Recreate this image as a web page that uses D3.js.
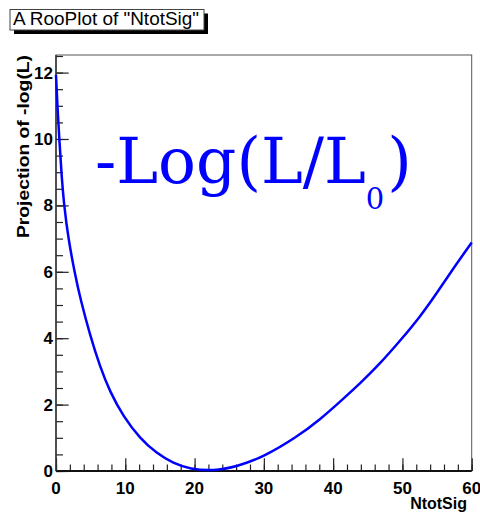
<!DOCTYPE html>
<html>
<head>
<meta charset="utf-8">
<script src="https://cdn.jsdelivr.net/npm/d3@7"></script>
<style>
  html, body { margin: 0; padding: 0; background: #fff; }
  svg { display: block; }
</style>
</head>
<body>
<svg id="chart" width="480" height="514"></svg>
<script>
// Profile of the negative log-likelihood versus the signal yield
const nSig = [0, 0.2, 0.48, 0.77, 1.16, 1.78, 2.74, 3.56, 4.9, 6.35, 7.8, 9.72,
              12.13, 14.54, 16.94, 19.35, 22.7, 26.1, 30, 34.8, 38.1, 41.0, 43.9,
              46.8, 49.7, 52.6, 55.0, 57.4, 60];
const nll  = [11.93, 11.0, 10.0, 9.0, 8.0, 7.0, 5.92, 5.15, 4.1, 3.14, 2.38, 1.64,
              0.98, 0.53, 0.23, 0.06, 0.0, 0.13, 0.43, 1.03, 1.55, 2.09, 2.64,
              3.24, 3.93, 4.66, 5.37, 6.12, 6.88];

const xTicks = [0, 10, 20, 30, 40, 50, 60];
const yTicks = [0, 2, 4, 6, 8, 10, 12];
const xDomain = [0, 60];
const yDomain = [0, 12.53];

const plotTitle = 'A RooPlot of "NtotSig"';
const xTitle = "NtotSig";
const yTitle = "Projection of -log(L)";

const svg = d3.select("#chart");
const frame = { left: 56, right: 471.7, top: 55, bottom: 471 };

const x = d3.scaleLinear().domain(xDomain).range([frame.left, frame.right]);
const y = d3.scaleLinear().domain(yDomain).range([frame.bottom, frame.top]);

// frame
svg.append("rect")
  .attr("x", frame.left).attr("y", frame.top)
  .attr("width", frame.right - frame.left).attr("height", frame.bottom - frame.top)
  .attr("fill", "none").attr("stroke", "#555").attr("stroke-width", 1);

// minor ticks
const xMinor = d3.range(xDomain[0], xDomain[1] + 0.001, 2);
const yMinor = d3.range(0, yDomain[1], 0.5);

const xAxisMinor = d3.axisTop(x).tickValues(xMinor).tickSize(6.5).tickFormat("");
const xAxisMajor = d3.axisTop(x).tickValues(xTicks).tickSize(12.7).tickFormat("");
const yAxisMinor = d3.axisRight(y).tickValues(yMinor).tickSize(7).tickFormat("");
const yAxisMajor = d3.axisRight(y).tickValues(yTicks).tickSize(12.7).tickFormat("");

function styleAxis(g) {
  g.select(".domain").remove();
  g.selectAll("line").attr("stroke", "#222").attr("stroke-width", 1.2);
}

svg.append("g").attr("transform", `translate(0,${frame.bottom})`).call(xAxisMinor).call(styleAxis);
svg.append("g").attr("transform", `translate(0,${frame.bottom})`).call(xAxisMajor).call(styleAxis);
svg.append("g").attr("transform", `translate(${frame.left},0)`).call(yAxisMinor).call(styleAxis);
svg.append("g").attr("transform", `translate(${frame.left},0)`).call(yAxisMajor).call(styleAxis);

// axis lines
svg.append("line").attr("x1", frame.left).attr("x2", frame.right)
  .attr("y1", frame.bottom).attr("y2", frame.bottom)
  .attr("stroke", "#111").attr("stroke-width", 1.8);
svg.append("line").attr("x1", frame.left).attr("x2", frame.left)
  .attr("y1", frame.top).attr("y2", frame.bottom)
  .attr("stroke", "#333").attr("stroke-width", 1.5);

// tick labels
const labelFont = "'Liberation Sans', Arial, Helvetica, sans-serif";
svg.append("g").selectAll("text").data(xTicks).join("text")
  .attr("x", d => x(d)).attr("y", 494)
  .attr("text-anchor", "middle")
  .attr("font-family", labelFont).attr("font-weight", "bold").attr("font-size", 17)
  .text(d => d);

svg.append("g").selectAll("text").data(yTicks).join("text")
  .attr("x", 53).attr("y", d => y(d) + 6)
  .attr("text-anchor", "end")
  .attr("font-family", labelFont).attr("font-weight", "bold").attr("font-size", 17)
  .text(d => d);

// axis titles
svg.append("text")
  .attr("x", 467).attr("y", 508.5)
  .attr("text-anchor", "end")
  .attr("font-family", labelFont).attr("font-weight", "bold").attr("font-size", 16)
  .text(xTitle);

svg.append("text")
  .attr("transform", "translate(29,55) rotate(-90)")
  .attr("text-anchor", "end")
  .attr("font-family", labelFont).attr("font-weight", "bold").attr("font-size", 16.5)
  .attr("textLength", 183).attr("lengthAdjust", "spacingAndGlyphs")
  .text(yTitle);

// curve (B-spline through the sampled profile)
const pts = nSig.map((n, i) => [n, nll[i]]);
const line = d3.line().x(d => x(d[0])).y(d => y(d[1])).curve(d3.curveBasis);
svg.append("path")
  .datum(pts)
  .attr("d", line)
  .attr("fill", "none")
  .attr("stroke", "#0000ff")
  .attr("stroke-width", 2.5);

// annotation
const ann = svg.append("text")
  .attr("x", 95).attr("y", 183)
  .attr("font-family", "'DejaVu Serif', serif")
  .attr("font-size", 63)
  .attr("fill", "#0000ff");
ann.append("tspan").text("-Log(L/L");
ann.append("tspan").attr("dy", 26).attr("font-size", 29).text("0");
ann.append("tspan").attr("dy", -26).attr("dx", 3).text(")");

// title box with shadow
const tb = { x: 10, y: 9.5, w: 194, h: 20.5 };
svg.append("rect").attr("x", tb.x + 4).attr("y", tb.y + 4).attr("width", tb.w).attr("height", tb.h)
  .attr("fill", "#000");
svg.append("rect").attr("x", tb.x).attr("y", tb.y).attr("width", tb.w).attr("height", tb.h)
  .attr("fill", "#fff").attr("stroke", "#444").attr("stroke-width", 1);
svg.append("text")
  .attr("x", tb.x + 3).attr("y", 25)
  .attr("font-family", labelFont).attr("font-size", 17.5)
  .attr("textLength", 186).attr("lengthAdjust", "spacingAndGlyphs")
  .text(plotTitle);
</script>
</body>
</html>
